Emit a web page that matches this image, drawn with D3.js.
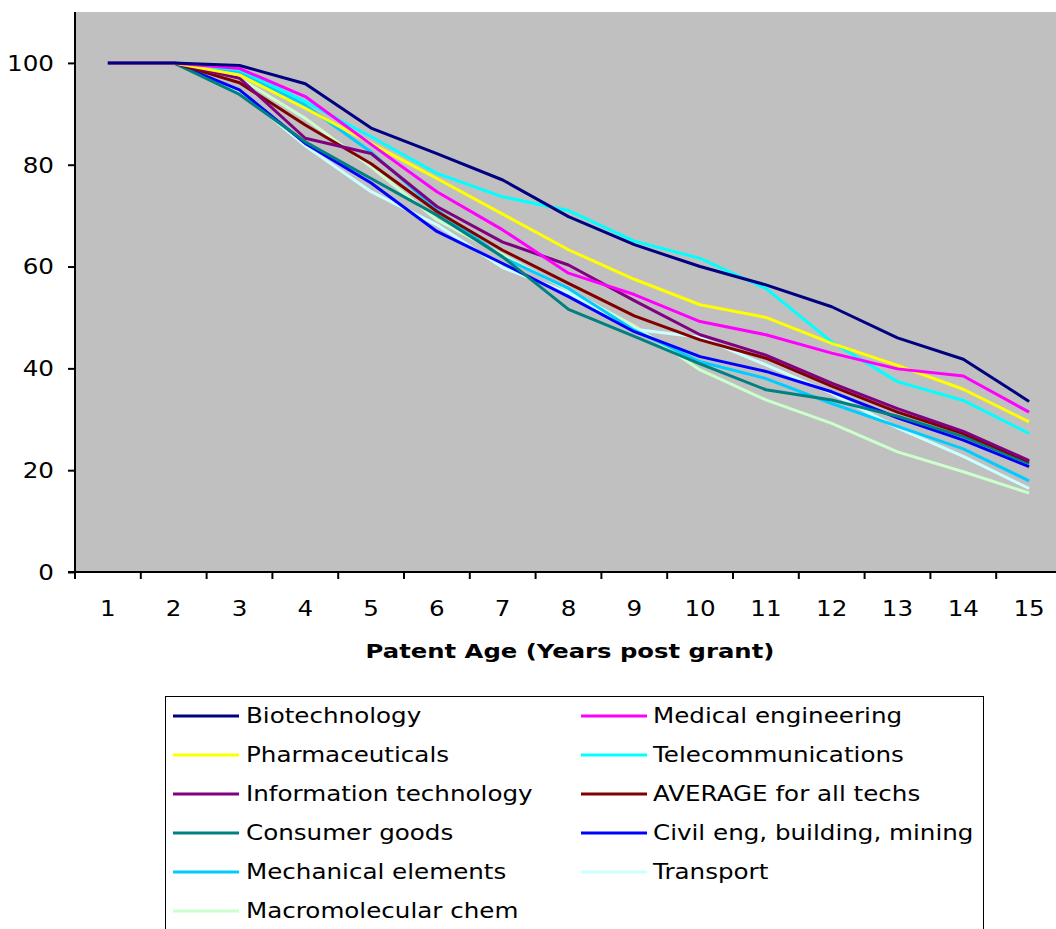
<!DOCTYPE html>
<html>
<head>
<meta charset="utf-8">
<script src="https://cdn.jsdelivr.net/npm/d3@7/dist/d3.min.js"></script>
<style>
  html, body { margin: 0; padding: 0; background: #ffffff; }
  svg { display: block; font-family: "DejaVu Sans", Verdana, sans-serif; }
</style>
</head>
<body>
<svg id="chart" width="1056" height="929"></svg>
<script>
// Patent survival (% still in force) by years after grant
const years = ["1","2","3","4","5","6","7","8","9","10","11","12","13","14","15"];
const yTicks = [0, 20, 40, 60, 80, 100];

const biotechnology   = [100,100,99.5,95.9,87.2,82.2,77.0,69.8,64.3,60.0,56.4,52.1,46.0,41.8,33.5];
const medicalEng      = [100,100,98.9,93.4,84.0,74.7,67.2,58.7,54.5,49.2,46.6,43.0,39.9,38.5,31.4];
const pharmaceuticals = [100,100,97.6,91.1,84.2,77.3,70.3,63.3,57.5,52.5,50.0,44.9,40.6,35.9,29.5];
const telecom         = [100,100,98.6,92.4,85.5,78.3,73.7,71.0,65.0,61.6,55.7,45.2,37.4,33.7,27.2];
const infoTech        = [100,100,97.0,85.2,82.2,71.8,64.8,60.3,53.3,46.6,42.6,37.1,32.1,27.6,21.9];
const averageAll      = [100,100,96.1,87.8,80.2,70.8,63.2,56.7,50.3,45.6,42.0,36.5,31.4,27.2,21.7];
const consumerGoods   = [100,100,93.8,84.5,77.3,70.1,61.9,51.6,46.3,40.9,35.8,33.8,30.6,26.6,21.3];
const civilEng        = [100,100,94.7,84.2,76.4,66.9,60.6,54.1,47.2,42.3,39.4,35.4,30.3,25.9,20.7];
const mechanical      = [100,100,98.3,91.7,82.5,71.1,61.8,55.7,47.5,41.3,38.0,33.1,28.6,24.2,17.9];
const transport       = [100,100,94.4,83.7,74.7,68.2,59.8,54.8,47.7,46.1,40.7,35.1,28.3,22.7,16.4];
const macromolecular  = [100,100,97.0,89.1,79.6,69.2,62.3,55.4,48.3,39.7,33.8,29.2,23.6,19.7,15.5];

const seriesNames = [
  "Biotechnology", "Medical engineering", "Pharmaceuticals", "Telecommunications",
  "Information technology", "AVERAGE for all techs", "Consumer goods",
  "Civil eng, building, mining", "Mechanical elements", "Transport", "Macromolecular chem"
];
const seriesValues = [
  biotechnology, medicalEng, pharmaceuticals, telecom, infoTech, averageAll,
  consumerGoods, civilEng, mechanical, transport, macromolecular
];
const seriesColors = [
  "#000080", "#FF00FF", "#FFFF00", "#00FFFF", "#800080", "#800000",
  "#008080", "#0000FF", "#00CCFF", "#CCFFFF", "#CCFFCC"
];

// text is drawn slightly widened, like the original wide-set sheet font
const STRETCH = 1.2;
function wideText(sel, tx, ty, k = STRETCH) {
  return sel.attr("x", 0).attr("y", 0)
    .attr("transform", (d, i) => `translate(${tx(d, i)},${ty(d, i)}) scale(${k},1)`);
}

const svg = d3.select("#chart");
const plot = { left: 75, top: 12, right: 1062, bottom: 572 };

const x = d3.scaleBand().domain(years).range([plot.left, plot.right]).paddingInner(0).paddingOuter(0);
const y = d3.scaleLinear().domain([0, 110]).range([plot.bottom, plot.top]);

// plot background
svg.append("rect")
  .attr("x", plot.left).attr("y", plot.top)
  .attr("width", plot.right - plot.left).attr("height", plot.bottom - plot.top)
  .attr("fill", "#C0C0C0");

// series lines (drawn so the first series ends up on top)
const line = d3.line()
  .x((d, i) => x(years[i]) + x.bandwidth() / 2)
  .y(d => y(d));

const order = d3.range(seriesValues.length).reverse();
svg.append("g").selectAll("path")
  .data(order)
  .join("path")
  .attr("d", i => line(seriesValues[i]))
  .attr("fill", "none")
  .attr("stroke", i => seriesColors[i])
  .attr("stroke-width", 3)
  .attr("stroke-linejoin", "round");

// y axis
const yAxis = svg.append("g")
  .attr("transform", `translate(${plot.left},0)`)
  .call(d3.axisLeft(y).tickValues(yTicks).tickSize(7));
yAxis.select(".domain").attr("stroke", "#000").attr("stroke-width", 2)
  .attr("d", `M0,${plot.top}V${plot.bottom}`);
yAxis.selectAll(".tick line").attr("stroke", "#000").attr("stroke-width", 2);
yAxis.selectAll(".tick text")
  .attr("font-size", 20.5).attr("fill", "#000")
  .attr("font-family", "DejaVu Sans, sans-serif")
  .attr("text-anchor", "end").attr("dy", "0.36em")
  .call(wideText, () => -21, () => 0);

// x axis: labels centred in each category, tick marks on the category boundaries
const xAxis = svg.append("g")
  .attr("transform", `translate(0,${plot.bottom})`)
  .call(d3.axisBottom(x).tickSize(0));
xAxis.select(".domain").remove();
xAxis.selectAll(".tick text")
  .attr("font-size", 20.5).attr("fill", "#000")
  .attr("font-family", "DejaVu Sans, sans-serif")
  .attr("text-anchor", "middle").attr("dy", null)
  .call(wideText, () => 0, () => 44);
svg.append("line")
  .attr("x1", plot.left - 7).attr("x2", plot.right)
  .attr("y1", plot.bottom).attr("y2", plot.bottom)
  .attr("stroke", "#000").attr("stroke-width", 2);
svg.append("g").selectAll("line")
  .data(years)
  .join("line")
  .attr("x1", d => x(d)).attr("x2", d => x(d))
  .attr("y1", plot.bottom).attr("y2", plot.bottom + 7)
  .attr("stroke", "#000").attr("stroke-width", 2);

// axis title
svg.append("text")
  .datum("Patent Age (Years post grant)")
  .attr("text-anchor", "middle")
  .attr("font-size", 20).attr("font-weight", "bold")
  .call(wideText, () => 570, () => 658, 1.215)
  .text(d => d);

// legend
const legend = svg.append("g");
legend.append("rect")
  .attr("x", 165.5).attr("y", 696.5)
  .attr("width", 818).attr("height", 260)
  .attr("fill", "#fff").attr("stroke", "#000").attr("stroke-width", 1);

const items = legend.selectAll("g.item")
  .data(seriesNames.map((n, i) => ({ name: n, color: seriesColors[i], i })))
  .join("g")
  .attr("class", "item")
  .attr("transform", d => `translate(${d.i % 2 === 0 ? 173 : 581},${716 + Math.floor(d.i / 2) * 39})`);
items.append("line")
  .attr("x1", 0).attr("x2", 66).attr("y1", 0).attr("y2", 0)
  .attr("stroke", d => d.color).attr("stroke-width", 3);
items.append("text")
  .attr("font-size", 20.5).attr("dy", "0.36em")
  .call(wideText, d => (d.i % 2 === 0 ? 73 : 72), () => 0)
  .text(d => d.name);
</script>
</body>
</html>
